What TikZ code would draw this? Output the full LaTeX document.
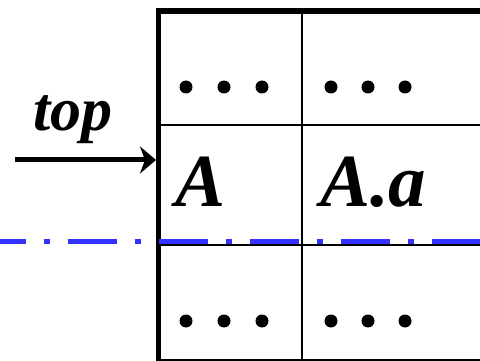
\documentclass[tikz,border=0pt]{standalone}
\usepackage{fontspec}
\setmainfont{Liberation Serif}
\usetikzlibrary{arrows.meta}
\definecolor{lineblue}{RGB}{51,51,255}
\tikzset{
  thick frame/.style={line width=5.5pt, line cap=rect},
  thin rule/.style={line width=2pt},
  dotmark/.style={circle, fill=black, inner sep=0pt, minimum size=13pt},
  bigtext/.style={font=\fontsize{75}{80}\selectfont\bfseries\itshape, inner sep=0pt, anchor=base west},
  labeltext/.style={font=\fontsize{62}{66}\selectfont\bfseries\itshape, inner sep=0pt, anchor=base west},
  pointer/.style={line width=5pt, -{Stealth[length=16pt, width=27pt, inset=5pt]}},
  dashdotline/.style={lineblue, line width=5pt, dash pattern=on 49pt off 18pt on 6pt off 18pt, dash phase=23pt}
}
\begin{document}
\begin{tikzpicture}[x=1pt,y=-1pt]
\useasboundingbox (0,0) rectangle (480,361);
% grid coordinates
\coordinate (tl) at (158.5,11);
\coordinate (tr) at (482,11);
\coordinate (bl) at (158.5,361);
\coordinate (r1l) at (158.5,125);
\coordinate (r1r) at (482,125);
\coordinate (r2l) at (158.5,244.5);
\coordinate (r2r) at (482,244.5);
\coordinate (botl) at (158.5,360);
\coordinate (botr) at (482,360);
\coordinate (vt) at (302,11);
\coordinate (vb) at (302,362);
% thin rules
\draw[thin rule] (r1l) -- (r1r);
\draw[thin rule] (r2l) -- (r2r);
\draw[thin rule] (botl) -- (botr);
\draw[thin rule] (vt) -- (vb);
% thick frame
\draw[thick frame] (bl) -- (tl) -- (tr);
% dots
\foreach \i/\x in {1/186,2/224,3/262,4/331,5/368,6/405}{
  \node[dotmark] (dt\i) at (\x,87) {};
  \node[dotmark] (db\i) at (\x,321) {};
}
% texts
\node[bigtext] (A) at (175,207) {A};
\node[bigtext] (Aa) at (320,207) {A.a};
\node[labeltext] (top) at (33,131) {top};
% pointer
\coordinate (ps) at (15,160);
\coordinate (pe) at (156,160);
\draw[pointer] (ps) -- (pe);
% blue dash-dot line
\coordinate (bs) at (0,241.8);
\coordinate (be) at (482,241.8);
\draw[dashdotline] (bs) -- (be);
\end{tikzpicture}
\end{document}
